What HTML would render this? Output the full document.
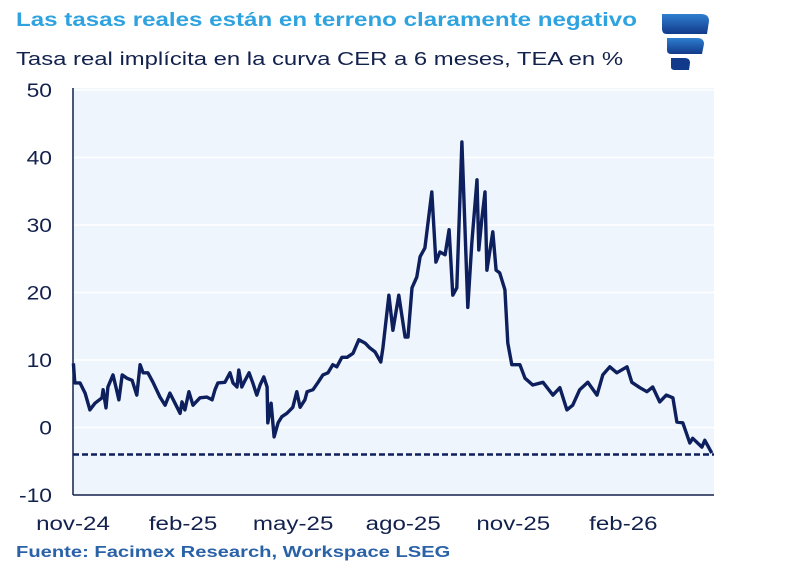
<!DOCTYPE html>
<html><head><meta charset="utf-8"><style>
body{margin:0;width:800px;height:575px;background:#fff;font-family:"Liberation Sans",sans-serif;overflow:hidden;position:relative}
.t{position:absolute;white-space:nowrap;transform-origin:0 50%}
</style></head><body>
<div class="t" style="left:16px;top:10px;font-size:19px;font-weight:bold;color:#2ea3df;transform:scaleX(1.27)">Las tasas reales están en terreno claramente negativo</div>
<div class="t" style="left:16px;top:48px;font-size:18.5px;color:#13214d;transform:scaleX(1.29)">Tasa real implícita en la curva CER a 6 meses, TEA en %</div>
<svg style="position:absolute;left:655px;top:8px" width="60" height="66">
<defs><linearGradient id="lg" x1="0" y1="0" x2="0" y2="1"><stop offset="0" stop-color="#2f7fd0"/><stop offset="1" stop-color="#123a8a"/></linearGradient></defs>
<path d="M7,6 H46 Q54,6 54,13 L52,26 H12 Q7,26 7,21Z" fill="url(#lg)"/>
<path d="M12,30 H42 Q49,30 49,36 L47,46 H16 Q12,46 12,42Z" fill="url(#lg)"/>
<path d="M16,50 H30 Q35,50 35,55 L34,62 H20 Q16,62 16,59Z" fill="#123a8a"/>
</svg>
<svg id="c" style="position:absolute;left:0;top:0" width="800" height="575"></svg>
<div class="t" style="left:16px;top:544px;font-size:16px;font-weight:bold;color:#2a62a8;transform:scaleX(1.26)">Fuente: Facimex Research, Workspace LSEG</div>
<script>
const yTicks=[50,40,30,20,10,0,-10];
const yTickLabels=["50","40","30","20","10","0","-10"];
const xTicks=[0,3,6,9,12,15];
const xTickLabels=["nov-24","feb-25","may-25","ago-25","nov-25","feb-26"];
const refValue=-4;
const months=[0.01,0.05,0.19,0.33,0.46,0.6,0.79,0.82,0.9,0.95,1.09,1.17,1.25,1.34,1.47,1.61,1.74,1.83,1.91,2.04,2.18,2.37,2.51,2.64,2.78,2.92,2.97,3.05,3.16,3.27,3.46,3.65,3.79,3.87,3.95,4.14,4.28,4.36,4.47,4.52,4.6,4.69,4.8,4.9,5.01,5.1,5.2,5.29,5.31,5.4,5.48,5.59,5.69,5.83,5.99,6.1,6.19,6.32,6.38,6.54,6.68,6.81,6.95,7.08,7.19,7.33,7.47,7.63,7.79,7.96,8.09,8.23,8.39,8.45,8.61,8.72,8.88,9.05,9.13,9.24,9.37,9.46,9.59,9.78,9.89,10,10.14,10.25,10.35,10.46,10.6,10.76,10.87,11.01,11.06,11.14,11.23,11.28,11.44,11.53,11.63,11.77,11.85,11.96,12.18,12.32,12.53,12.81,13.08,13.27,13.46,13.62,13.81,14.03,14.28,14.44,14.63,14.82,15.1,15.23,15.45,15.64,15.8,15.99,16.17,16.35,16.46,16.62,16.81,16.89,17.14,17.22,17.41];
const rates=[9.5,6.6,6.6,5.1,2.6,3.6,4.4,5.6,2.9,6.0,7.8,6.0,4.1,7.8,7.3,7.0,4.8,9.3,8.1,8.1,6.7,4.5,3.3,5.1,3.6,2.1,3.8,2.6,5.3,3.3,4.4,4.5,4.1,5.6,6.6,6.7,8.1,6.6,6.0,8.5,6.0,7.0,8.1,6.6,4.8,6.3,7.5,6.0,0.7,3.6,-1.4,0.7,1.6,2.1,3.0,5.3,3.0,4.1,5.3,5.6,6.7,7.8,8.1,9.3,9.0,10.4,10.4,11.0,13.0,12.5,11.8,11.2,9.7,11.9,19.6,14.4,19.6,13.4,13.4,20.7,22.3,25.3,26.6,34.9,24.5,26,25.6,29.3,19.6,20.7,42.3,17.8,27.3,36.7,26.3,30.7,34.9,23.3,29,23.3,22.9,20.4,12.5,9.3,9.3,7.3,6.3,6.7,4.8,5.9,2.6,3.3,5.6,6.7,4.8,7.8,9.0,8.1,9.0,6.7,5.9,5.3,6.0,3.8,4.8,4.4,0.8,0.7,-2.3,-1.6,-2.9,-1.9,-3.8];
const NS="http://www.w3.org/2000/svg";
const svg=document.getElementById('c');
const L=73,R=714,T=90,B=495,xMax=17.47,yMin=-10,yMaxV=50;
const xs=m=>L+(m/xMax)*(R-L);
const ys=v=>T+(yMaxV-v)/(yMaxV-yMin)*(B-T);
function mk(tag,a){const e=document.createElementNS(NS,tag);for(const k in a)e.setAttribute(k,a[k]);svg.appendChild(e);return e;}
function widen(t,f){const w=t.getComputedTextLength();t.setAttribute('textLength',(w*f).toFixed(1));t.setAttribute('lengthAdjust','spacingAndGlyphs');}
const bg=mk('rect',{x:L,y:T-2,width:R-L,height:B-T+2,fill:'#eef5fc'});


yTicks.forEach((v,i)=>{
  if(v!==yMin){const g=mk('line',{x1:L,x2:R,y1:ys(v),y2:ys(v),stroke:'#ffffff','stroke-width':1.5});
  
  }
  const t=mk('text',{x:52,y:ys(v)+7,'text-anchor':'end','font-size':19,fill:'#13214d','font-family':'Liberation Sans'});
  t.textContent=yTickLabels[i];
  
  
  widen(t,1.2);
});
xTicks.forEach((m,i)=>{
  const t=mk('text',{x:xs(m),y:530,'text-anchor':'middle','font-size':19,fill:'#13214d','font-family':'Liberation Sans'});
  t.textContent=xTickLabels[i];
  
  
  widen(t,1.27);
});
const ya=mk('line',{x1:L,x2:L,y1:T-2,y2:B,stroke:'#13214d','stroke-width':1.5});


const xa=mk('line',{x1:L,x2:R,y1:B,y2:B,stroke:'#13214d','stroke-width':1.5});


const ref=mk('line',{x1:L,x2:R,y1:ys(refValue),y2:ys(refValue),stroke:'#0d1f5c','stroke-width':2.5,'stroke-dasharray':'6,3'});


const p=mk('polyline',{points:months.map((m,i)=>xs(m).toFixed(1)+','+ys(rates[i]).toFixed(1)).join(' '),fill:'none',stroke:'#0d1f5c','stroke-width':3.4,'stroke-linejoin':'round'});


</script>
</body></html>
